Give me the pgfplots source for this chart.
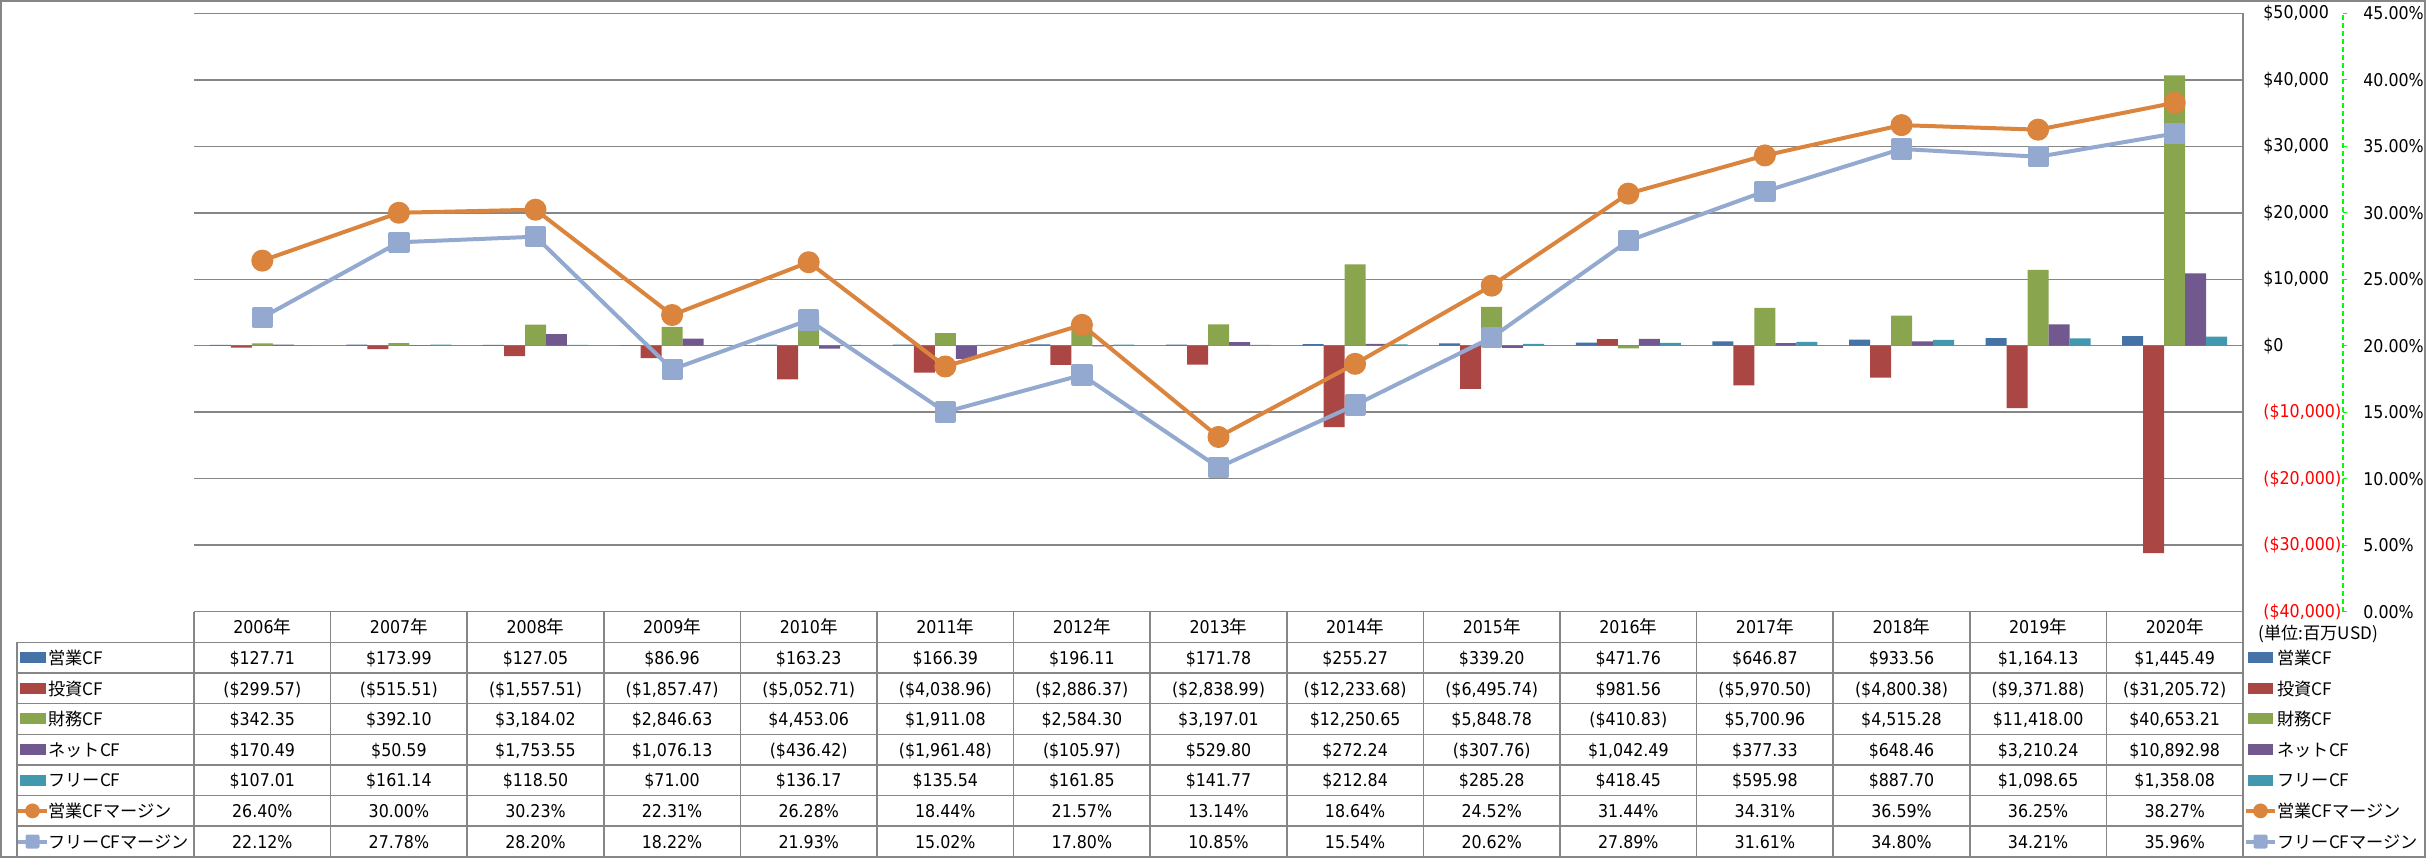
\documentclass[border=0pt]{standalone}
\usepackage{pgfplots}
\pgfplotsset{compat=1.18}
\usepackage{pgfplotstable}
\usepackage{fontspec}
\setmainfont{DejaVu Sans Condensed}
\newfontfamily\cjk{Noto Sans CJK JP}
\definecolor{cA}{HTML}{4572A7}
\definecolor{cB}{HTML}{AA4643}
\definecolor{cC}{HTML}{89A54E}
\definecolor{cD}{HTML}{71588F}
\definecolor{cE}{HTML}{4198AF}
\definecolor{cF}{HTML}{DB843D}
\definecolor{cG}{HTML}{93A9CF}
\definecolor{gridgray}{HTML}{868686}
\definecolor{grn}{HTML}{00FF00}
\definecolor{negred}{HTML}{FF0000}

\pgfplotstableread{
x op inv fin net free opm frm
0 127.71 -299.57 342.35 170.49 107.01 26.40 22.12
1 173.99 -515.51 392.10 50.59 161.14 30.00 27.78
2 127.05 -1557.51 3184.02 1753.55 118.50 30.23 28.20
3 86.96 -1857.47 2846.63 1076.13 71.00 22.31 18.22
4 163.23 -5052.71 4453.06 -436.42 136.17 26.28 21.93
5 166.39 -4038.96 1911.08 -1961.48 135.54 18.44 15.02
6 196.11 -2886.37 2584.30 -105.97 161.85 21.57 17.80
7 171.78 -2838.99 3197.01 529.80 141.77 13.14 10.85
8 255.27 -12233.68 12250.65 272.24 212.84 18.64 15.54
9 339.20 -6495.74 5848.78 -307.76 285.28 24.52 20.62
10 471.76 981.56 -410.83 1042.49 418.45 31.44 27.89
11 646.87 -5970.50 5700.96 377.33 595.98 34.31 31.61
12 933.56 -4800.38 4515.28 648.46 887.70 36.59 34.80
13 1164.13 -9371.88 11418.00 3210.24 1098.65 36.25 34.21
14 1445.49 -31205.72 40653.21 10892.98 1358.08 38.27 35.96
}\data

\newcommand\tfont{\fontsize{8.8pt}{10pt}\selectfont}
\newcommand\jfont{\cjk\fontsize{8.6pt}{10pt}\selectfont}
\newcommand\trow[2]{\foreach \t [count=\j from 0] in {#2} {\node[anchor=base,inner sep=0pt] at ({194+136.6*(\j+0.5)},{611.7+30.64*(#1+0.5)+6.7}) {\t};}}

\begin{document}
\begin{tikzpicture}
\path[use as bounding box] (0pt,0pt) rectangle (1213pt,429pt);

% ---- bars (primary axis) ----
\begin{axis}[
  at={(97pt,123.15pt)}, anchor=south west, scale only axis,
  width=1024.5pt, height=299.2pt,
  xmin=-0.5, xmax=14.5, ymin=-40000, ymax=50000,
  hide x axis, axis y line*=right,
  y axis line style={gridgray, line width=0.75pt},
  ytick={-40000,-30000,-20000,-10000,0,10000,20000,30000,40000,50000},
  yticklabels={{\color{negred}(\$40,000)},{\color{negred}(\$30,000)},{\color{negred}(\$20,000)},{\color{negred}(\$10,000)},{\$0},{\$10,000},{\$20,000},{\$30,000},{\$40,000},{\$50,000}},
  major tick length=0pt,
  ymajorgrids, major grid style={gridgray, line width=0.75pt},
  yticklabel style={anchor=west, inner sep=0pt, xshift=10pt, font=\tfont},
]
\addplot[ybar, bar width=0.1537, bar shift=-0.3074, fill=cA, draw=none] table[x=x,y=op]{\data};
\addplot[ybar, bar width=0.1537, bar shift=-0.1537, fill=cB, draw=none] table[x=x,y=inv]{\data};
\addplot[ybar, bar width=0.1537, bar shift=0, fill=cC, draw=none] table[x=x,y=fin]{\data};
\addplot[ybar, bar width=0.1537, bar shift=0.1537, fill=cD, draw=none] table[x=x,y=net]{\data};
\addplot[ybar, bar width=0.1537, bar shift=0.3074, fill=cE, draw=none] table[x=x,y=free]{\data};
\end{axis}

% ---- margins (secondary scale) ----
\begin{axis}[
  at={(97pt,123.15pt)}, anchor=south west, scale only axis,
  width=1024.5pt, height=299.2pt,
  xmin=-0.5, xmax=14.5, ymin=0, ymax=45,
  hide axis, clip=false,
]
\addplot[cF, line width=2pt, line join=round, mark=*, mark size=4.5pt] table[x=x,y=opm]{\data};
\addplot[cG, line width=2pt, line join=round, mark=square*, mark size=4.3pt, mark options={rounded corners=1pt}] table[x=x,y=frm]{\data};
\end{axis}

% ---- secondary axis line (percent) ----
\begin{axis}[
  at={(1171.5pt,123.15pt)}, anchor=south east, scale only axis,
  width=5pt, height=299.2pt,
  xmin=0, xmax=1, ymin=0, ymax=45,
  hide x axis, axis y line*=right,
  y axis line style={grn, dash pattern=on 2.5pt off 1.5pt, line width=0.6pt},
  ytick={0,5,10,15,20,25,30,35,40,45},
  yticklabels={0.00\%,5.00\%,10.00\%,15.00\%,20.00\%,25.00\%,30.00\%,35.00\%,40.00\%,45.00\%},
  tick align=outside, major tick length=2pt,
  ytick style={grn, line width=0.6pt},
  yticklabel style={anchor=west, inner sep=0pt, xshift=8pt, font=\tfont},
]
\end{axis}

% ---- data table (pixel units, y downward) ----
\begin{scope}[x=0.5pt, y=-0.5pt, yshift=429pt, font=\tfont]
  \draw[gridgray, line width=0.75pt] (1,1) rectangle (2425,857);
  % horizontal lines
  \draw[gridgray, line width=0.75pt] (194,611.7) -- (2243,611.7);
  \foreach \k in {1,...,8} {\draw[gridgray, line width=0.75pt] (17,{611.7+30.64*\k}) -- (2243,{611.7+30.64*\k});}
  % vertical lines
  \draw[gridgray, line width=0.75pt] (17,642.34) -- (17,856.8);
  \foreach \k in {0,...,15} {\draw[gridgray, line width=0.75pt] ({194+136.6*\k},611.7) -- ({194+136.6*\k},856.8);}
  % header
  \foreach \yr [count=\j from 0] in {2006,...,2020} {\node[anchor=base,inner sep=0pt] at ({194+136.6*(\j+0.5)},{611.7+30.64*0.5+6.7}) {\yr{\cjk 年}};}
  \trow{1}{\$127.71,\$173.99,\$127.05,\$86.96,\$163.23,\$166.39,\$196.11,\$171.78,\$255.27,\$339.20,\$471.76,\$646.87,\$933.56,{\$1,164.13},{\$1,445.49}}
  \trow{2}{(\$299.57),(\$515.51),{(\$1,557.51)},{(\$1,857.47)},{(\$5,052.71)},{(\$4,038.96)},{(\$2,886.37)},{(\$2,838.99)},{(\$12,233.68)},{(\$6,495.74)},\$981.56,{(\$5,970.50)},{(\$4,800.38)},{(\$9,371.88)},{(\$31,205.72)}}
  \trow{3}{\$342.35,\$392.10,{\$3,184.02},{\$2,846.63},{\$4,453.06},{\$1,911.08},{\$2,584.30},{\$3,197.01},{\$12,250.65},{\$5,848.78},(\$410.83),{\$5,700.96},{\$4,515.28},{\$11,418.00},{\$40,653.21}}
  \trow{4}{\$170.49,\$50.59,{\$1,753.55},{\$1,076.13},(\$436.42),{(\$1,961.48)},(\$105.97),\$529.80,\$272.24,(\$307.76),{\$1,042.49},\$377.33,\$648.46,{\$3,210.24},{\$10,892.98}}
  \trow{5}{\$107.01,\$161.14,\$118.50,\$71.00,\$136.17,\$135.54,\$161.85,\$141.77,\$212.84,\$285.28,\$418.45,\$595.98,\$887.70,{\$1,098.65},{\$1,358.08}}
  \trow{6}{26.40\%,30.00\%,30.23\%,22.31\%,26.28\%,18.44\%,21.57\%,13.14\%,18.64\%,24.52\%,31.44\%,34.31\%,36.59\%,36.25\%,38.27\%}
  \trow{7}{22.12\%,27.78\%,28.20\%,18.22\%,21.93\%,15.02\%,17.80\%,10.85\%,15.54\%,20.62\%,27.89\%,31.61\%,34.80\%,34.21\%,35.96\%}
  % legend keys and names (left and right)
  \foreach \i/\c/\n in {1/cA/営業CF,2/cB/投資CF,3/cC/財務CF,4/cD/ネットCF,5/cE/フリーCF} {
    \fill[\c] (20,{611.7+30.64*(\i+0.5)-5.5}) rectangle (46,{611.7+30.64*(\i+0.5)+5.5});
    \node[anchor=base west,inner sep=0pt] at (48,{611.7+30.64*(\i+0.5)+6.7}) {\jfont \n};
    \fill[\c] (2248,{611.7+30.64*(\i+0.5)-5.5}) rectangle (2273,{611.7+30.64*(\i+0.5)+5.5});
    \node[anchor=base west,inner sep=0pt] at (2277,{611.7+30.64*(\i+0.5)+6.7}) {\jfont \n};
  }
  \foreach \xa/\xm/\xb/\xt in {18/32.5/47/48, 2246/2260.5/2275/2277} {
    \draw[cF, line width=2pt] (\xa,{611.7+30.64*6.5}) -- (\xb,{611.7+30.64*6.5});
    \fill[cF] (\xm,{611.7+30.64*6.5}) circle[radius=3.7pt];
    \node[anchor=base west,inner sep=0pt] at (\xt,{611.7+30.64*6.5+6.7}) {\jfont 営業CFマージン};
    \draw[cG, line width=2pt] (\xa,{611.7+30.64*7.5}) -- (\xb,{611.7+30.64*7.5});
    \fill[cG, rounded corners=1pt] ({\xm-7},{611.7+30.64*7.5-7}) rectangle ({\xm+7},{611.7+30.64*7.5+7});
    \node[anchor=base west,inner sep=0pt] at (\xt,{611.7+30.64*7.5+6.7}) {\jfont フリーCFマージン};
  }
  \node[anchor=west,inner sep=0pt] at (2258,634) {\jfont (単位:百万USD)};
\end{scope}
\end{tikzpicture}
\end{document}
